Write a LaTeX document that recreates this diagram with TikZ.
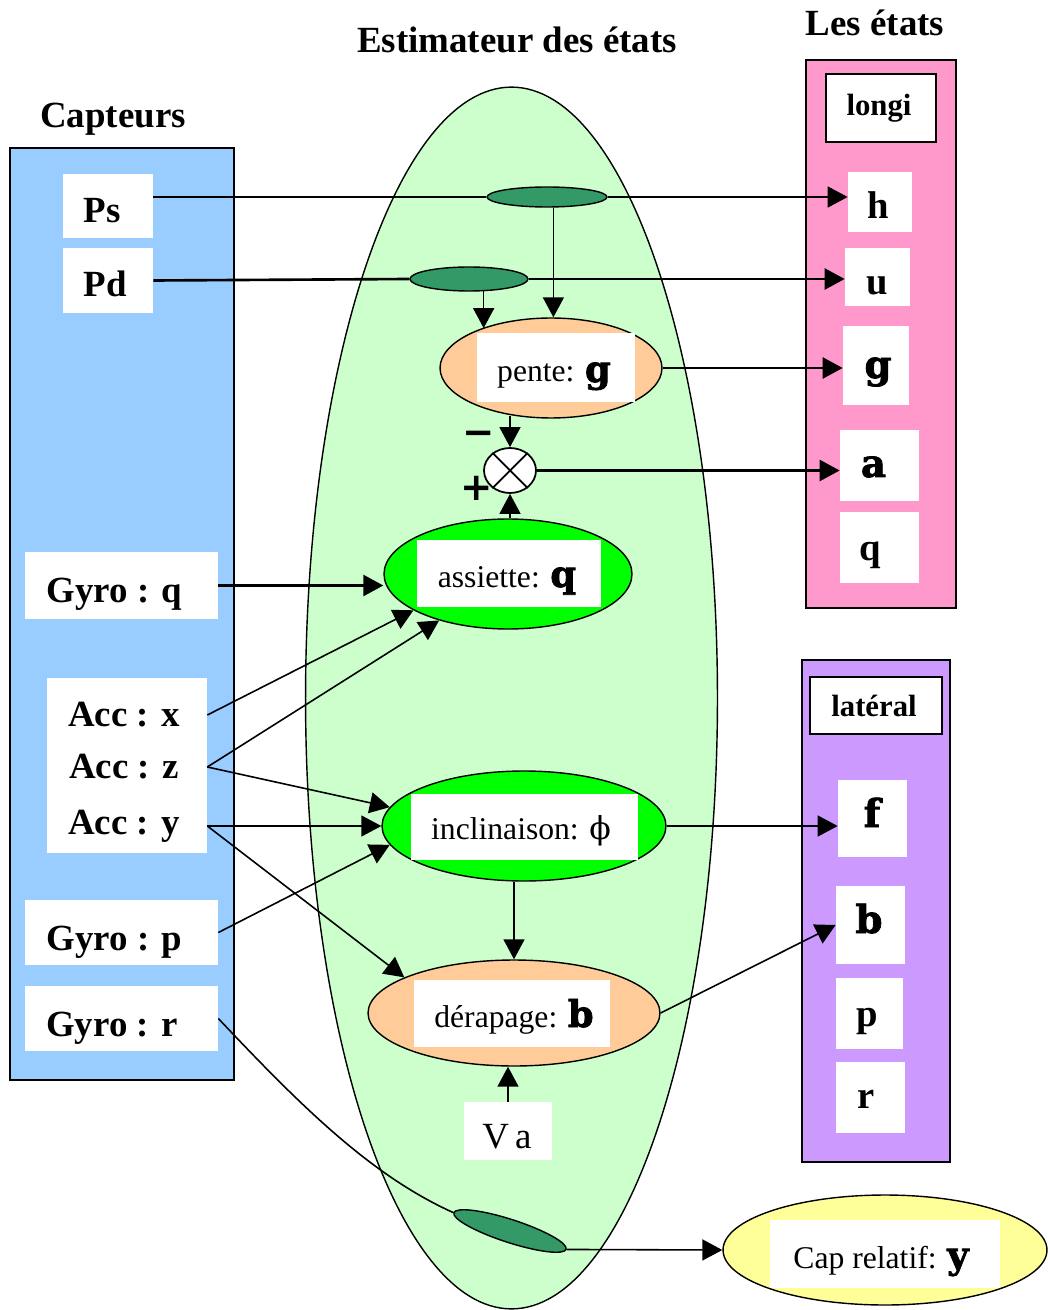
\documentclass[tikz,border=0pt]{standalone}
\usepackage{fontspec}
\setmainfont{Liberation Serif}
\newfontfamily\heavyfont{DejaVu Serif}[BoldFeatures={FakeBold=2}]
\newfontfamily\signfont{DejaVu Sans}
\usetikzlibrary{shapes.geometric,arrows.meta}
\newcommand{\hvy}[1]{{\heavyfont\bfseries #1}}
\definecolor{capblue}{HTML}{99CCFF}
\definecolor{estgreen}{HTML}{CCFFCC}
\definecolor{darkgr}{HTML}{339966}
\definecolor{peach}{HTML}{FFCC99}
\definecolor{brightgr}{HTML}{00FF00}
\definecolor{pinkst}{HTML}{FF99CC}
\definecolor{purpst}{HTML}{CC99FF}
\definecolor{yellowst}{HTML}{FFFF99}
\begin{document}
\begin{tikzpicture}[x=0.02cm,y=-0.02cm,
  panel/.style={rectangle, draw=black, line width=0.8pt, inner sep=0pt},
  wbox/.style={rectangle, fill=white, inner sep=0pt},
  bbox/.style={rectangle, fill=white, draw=black, line width=0.8pt, inner sep=0pt},
  ell/.style={ellipse, draw=black, line width=0.8pt, inner sep=0pt},
  lab/.style={font=\fontsize{21}{25}\selectfont\bfseries, inner sep=0pt},
  stl/.style={font=\fontsize{22}{26}\selectfont\bfseries, inner sep=0pt, anchor=base},
  sml/.style={font=\fontsize{17.5}{21}\selectfont\bfseries},
  reg/.style={font=\fontsize{18}{22}\selectfont, inner sep=0pt, anchor=base},
  conn/.style={line width=0.9pt},
  thk/.style={line width=1.5pt},
  arr/.style={-{Triangle[length=0.4cm,width=0.42cm]}}
]
\useasboundingbox (0,0) rectangle (1047,1310);

% ---- Capteurs panel
\node[lab, anchor=base] (tcapt) at (113,128) {Capteurs};
\node[panel, fill=capblue, minimum width=4.48cm, minimum height=18.64cm] (capt) at (122,614) {};
\node[wbox, minimum width=1.8cm, minimum height=1.3cm] (ps) at (108,206) {};
\node[lab, anchor=base] (tps) at (102,223) {Ps};
\node[wbox, minimum width=1.8cm, minimum height=1.3cm] (pd) at (108,280.5) {};
\node[lab, anchor=base] (tpd) at (105,297) {Pd};
\node[wbox, minimum width=3.86cm, minimum height=1.34cm] (gyroq) at (121.5,585.5) {};
\node[lab, anchor=base] (tgyroq) at (114.5,602) {Gyro : q};
\node[wbox, minimum width=3.2cm, minimum height=3.5cm] (acc) at (127,765.5) {};
\node[lab] (accx) at (124,715) {Acc : x};
\node[lab] (accz) at (124,767) {Acc : z};
\node[lab] (accy) at (124,826) {Acc : y};
\node[wbox, minimum width=3.86cm, minimum height=1.3cm] (gyrop) at (121.5,932.5) {};
\node[lab, anchor=base] (tgyrop) at (114.5,950) {Gyro : p};
\node[wbox, minimum width=3.86cm, minimum height=1.3cm] (gyror) at (121.5,1018.5) {};
\node[lab, anchor=base] (tgyror) at (112,1036) {Gyro : r};

% ---- Estimateur
\node[lab] (test) at (517,40) {Estimateur des états};
\node[ell, fill=estgreen, minimum width=8.24cm, minimum height=24.44cm] (est) at (511.5,698) {};
\node[ell, fill=darkgr, minimum width=2.4cm, minimum height=0.4cm] (e1) at (547,197) {};
\node[ell, fill=darkgr, minimum width=2.36cm, minimum height=0.48cm] (e2) at (469,279) {};
\node[ell, fill=peach, minimum width=4.44cm, minimum height=2.0cm] (pente) at (551,368) {};
\node[wbox, minimum width=3.16cm, minimum height=1.38cm] (bpente) at (556,367.5) {};
\node[reg] (tpente) at (554,382) {pente: \hvy{\fontsize{21}{25}\selectfont g}};
\node[ell, fill=white, line width=1pt, minimum width=1.04cm, minimum height=0.9cm] (sum) at (510,470.5) {};
\draw[line width=1pt] (sum.45) -- (sum.225) (sum.135) -- (sum.-45);
\node[font=\signfont\bfseries\fontsize{22}{24}\selectfont, inner sep=0pt] (minus) at (478.5,438) {−};
\node[font=\signfont\bfseries\fontsize{22}{24}\selectfont, inner sep=0pt] (plus) at (476.5,488.5) {+};
\node[ell, fill=brightgr, minimum width=4.96cm, minimum height=2.2cm] (assiette) at (508,574) {};
\node[wbox, minimum width=3.68cm, minimum height=1.34cm] (bassiette) at (509,573.5) {};
\node[reg] (tassiette) at (507,587) {assiette: \hvy{\fontsize{21}{25}\selectfont q}};
\node[ell, fill=brightgr, minimum width=5.68cm, minimum height=2.2cm] (incl) at (524,826) {};
\node[wbox, minimum width=4.54cm, minimum height=1.32cm] (bincl) at (524.5,827) {};
\node[reg] (tincl) at (521,839) {inclinaison: {\heavyfont ϕ}};
\node[ell, fill=peach, minimum width=5.84cm, minimum height=2.12cm] (derap) at (514,1013) {};
\node[wbox, minimum width=3.92cm, minimum height=1.34cm] (bderap) at (512,1013.5) {};
\node[reg] (tderap) at (514,1027) {dérapage: \hvy{\fontsize{21}{25}\selectfont b}};
\node[wbox, minimum width=1.76cm, minimum height=1.16cm] (va) at (508,1131) {};
\node[reg, font=\fontsize{21}{25}\selectfont] (tva) at (507,1148) {V\,a};
\node[ell, fill=darkgr, minimum width=2.36cm, minimum height=0.46cm, rotate=-18] (e3) at (510,1231) {};
\node[ell, fill=yellowst, minimum width=6.48cm, minimum height=2.2cm] (cap) at (885,1250) {};
\node[wbox, minimum width=4.6cm, minimum height=1.36cm] (bcap) at (885,1254) {};
\node[reg] (tcap) at (881,1268) {Cap relatif: \hvy{\fontsize{21}{25}\selectfont y}};

% ---- Les etats
\node[lab] (tetats) at (875,23) {Les états};
\node[panel, fill=pinkst, minimum width=3.0cm, minimum height=10.96cm] (longp) at (881,334) {};
\node[bbox, minimum width=2.2cm, minimum height=1.36cm] (longi) at (881,108) {};
\node[sml] (tlongi) at (879,108) {longi};
\node[wbox, minimum width=1.28cm, minimum height=1.2cm] (sh) at (880,202) {};
\node[stl] (th) at (878,219) {h};
\node[wbox, minimum width=1.3cm, minimum height=1.16cm] (su) at (877.5,277) {};
\node[stl] (tu) at (877,295) {u};
\node[wbox, minimum width=1.32cm, minimum height=1.58cm] (sg) at (876,365.5) {};
\node[stl] (tg) at (878,378) {\hvy{g}};
\node[wbox, minimum width=1.58cm, minimum height=1.42cm] (sa) at (879.5,465.5) {};
\node[stl] (ta) at (873.5,477) {\hvy{a}};
\node[wbox, minimum width=1.58cm, minimum height=1.42cm] (sq) at (879.5,547.5) {};
\node[stl] (tq) at (870.5,560) {q};

\node[panel, fill=purpst, minimum width=2.96cm, minimum height=10.04cm] (latp) at (876,911) {};
\node[bbox, minimum width=2.64cm, minimum height=1.14cm] (lat) at (876,705.5) {};
\node[sml] (tlat) at (874,706) {latéral};
\node[wbox, minimum width=1.38cm, minimum height=1.54cm] (sf) at (872.5,818.5) {};
\node[stl] (tf) at (872,827) {\hvy{f}};
\node[wbox, minimum width=1.38cm, minimum height=1.56cm] (sb) at (870.5,925) {};
\node[stl] (tb) at (869,933) {\hvy{b}};
\node[wbox, minimum width=1.34cm, minimum height=1.42cm] (sp) at (869.5,1013.5) {};
\node[stl] (tp) at (867,1026) {p};
\node[wbox, minimum width=1.38cm, minimum height=1.42cm] (sr) at (870.5,1097.5) {};
\node[stl] (tr) at (866,1108) {r};

% ---- connectors
\draw[conn] (ps.east |- e1.west) -- (e1.west);
\draw[conn, arr] (e1.east) -- (e1.east -| sh.west);
\draw[thk] (pd.east) -- (e2.west);
\draw[thk, arr] (e2.east) -- (e2.east -| su.west);
\draw[conn, arr] (e1.-59) -- (e1.-59 |- pente.north);
\draw[conn, arr] (e2.-40) -- (e2.-40 |- pente.150);
\draw[thk, arr] (pente.east) -- (pente.east -| sg.west);
\draw[conn, arr] (sum.north |- pente.232) -- (sum.north);
\draw[conn, arr] (sum.south |- assiette.north) -- (sum.south);
\draw[thk, arr] (sum.east) -- (sum.east -| sa.west);
\draw[thk, arr] (gyroq.east) -- (gyroq.east -| assiette.west);
\draw[conn, arr] (acc.east |- accx) -- (assiette.201);
\draw[conn, arr] (acc.east |- accz) -- (assiette.214);
\draw[conn, arr] (acc.east |- accz) -- (incl.172);
\draw[conn, arr] (acc.east |- accy) -- (incl.west);
\draw[conn, arr] (acc.east |- accy) -- (derap.162);
\draw[conn, arr] (gyrop.east) -- (incl.188);
\draw[conn, arr] (incl.east) -- (incl.east -| sf.west);
\draw[conn, arr] (derap.north |- incl.south) -- (derap.north);
\draw[conn, arr] (derap.east) -- (sb.west);
\draw[conn, arr] (va.north) -- (va.north |- derap.south);
\draw[conn] (gyror.east) .. controls (300,1105) and (370,1175) .. (e3.west);
\draw[conn, arr] (e3.east) -- (cap.west);
\end{tikzpicture}
\end{document}
